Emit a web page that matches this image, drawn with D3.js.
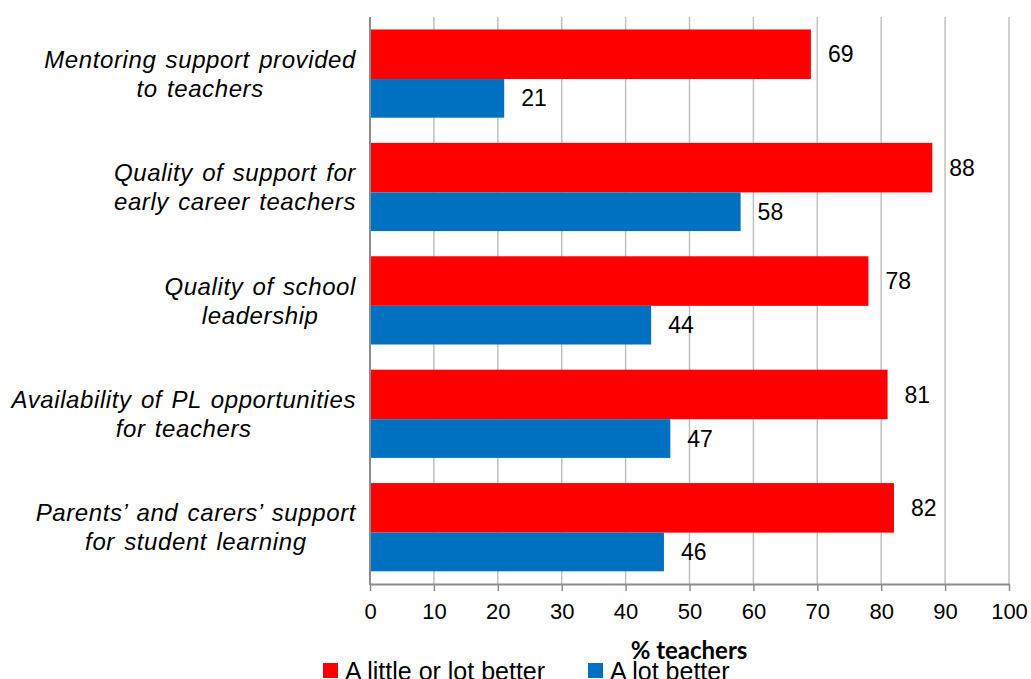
<!DOCTYPE html>
<html>
<head>
<meta charset="utf-8">
<script src="https://cdn.jsdelivr.net/npm/d3@7"></script>
<style>
  html, body { margin: 0; padding: 0; background: #fff; }
  svg { display: block; }
  text { font-family: "Liberation Sans", Arial, sans-serif; fill: #000; }
</style>
</head>
<body>
<svg id="chart" width="1031" height="679"></svg>
<script>
// Survey categories (top to bottom) with each line of the wrapped label
const categories = [
  ["Mentoring support provided", "to teachers"],
  ["Quality of support for", "early career teachers"],
  ["Quality of school", "leadership"],
  ["Availability of PL opportunities", "for teachers"],
  ["Parents\u2019 and carers\u2019 support", "for student learning"]
];
const littleOrLotBetter = [69, 88, 78, 81, 82];
const lotBetter = [21, 58, 44, 47, 46];
const xTicks = [0, 10, 20, 30, 40, 50, 60, 70, 80, 90, 100];
const seriesNames = ["A little or lot better", "A lot better"];
const seriesColors = ["#ff0000", "#0070c0"];
const xTitle = "% teachers";

const svg = d3.select("#chart");
const plot = { left: 370, right: 1009, top: 17, bottom: 584 };

const x = d3.scaleLinear().domain([0, 100]).range([plot.left, plot.right]);
const y = d3.scaleBand()
  .domain(d3.range(categories.length))
  .range([plot.top, plot.bottom])
  .padding(0);
const bw = y.bandwidth();
const inset = 0.11 * bw, redH = 0.437 * bw, blueH = 0.341 * bw;

// vertical gridlines
svg.append("g")
  .selectAll("line")
  .data(xTicks.filter(d => d > 0))
  .join("line")
  .attr("x1", d => x(d)).attr("x2", d => x(d))
  .attr("y1", plot.top).attr("y2", plot.bottom)
  .attr("stroke", "#c0c0c0").attr("stroke-width", 1.5);

// bottom axis
const xAxis = svg.append("g")
  .attr("transform", `translate(0,${plot.bottom})`)
  .call(d3.axisBottom(x).tickValues(xTicks).tickSize(7).tickSizeOuter(0).tickPadding(12));
xAxis.select(".domain").attr("stroke", "#8c8c8c").attr("stroke-width", 2);
xAxis.selectAll(".tick line").attr("stroke", "#8c8c8c").attr("stroke-width", 1.5);
xAxis.selectAll(".tick text")
  .attr("font-size", 22)
  .attr("font-family", "'Liberation Sans', Arial, sans-serif")
  .attr("fill", "#000");

// bars
const rows = categories.map((c, i) => ({ i, a: littleOrLotBetter[i], b: lotBetter[i] }));
const g = svg.append("g");
g.selectAll("rect.red").data(rows).join("rect")
  .attr("class", "red")
  .attr("x", x(0)).attr("y", d => y(d.i) + inset)
  .attr("width", d => x(d.a) - x(0)).attr("height", redH)
  .attr("fill", seriesColors[0]);
g.selectAll("rect.blue").data(rows).join("rect")
  .attr("class", "blue")
  .attr("x", x(0)).attr("y", d => y(d.i) + inset + redH)
  .attr("width", d => x(d.b) - x(0)).attr("height", blueH)
  .attr("fill", seriesColors[1]);

// value labels
g.selectAll("text.va").data(rows).join("text")
  .attr("class", "va")
  .attr("x", d => x(d.a) + 17).attr("y", d => y(d.i) + inset + redH / 2)
  .attr("dy", "0.35em").attr("font-size", 23)
  .text(d => d.a);
g.selectAll("text.vb").data(rows).join("text")
  .attr("class", "vb")
  .attr("x", d => x(d.b) + 17).attr("y", d => y(d.i) + inset + redH + blueH / 2)
  .attr("dy", "0.35em").attr("font-size", 23)
  .text(d => d.b);

// left axis line
svg.append("line")
  .attr("x1", plot.left).attr("x2", plot.left)
  .attr("y1", plot.top).attr("y2", plot.bottom + 1)
  .attr("stroke", "#8c8c8c").attr("stroke-width", 2);

// category labels: a centered text block, right-aligned against the axis
const labelRight = plot.left - 14;
categories.forEach((lines, i) => {
  const cy = y(i) + bw / 2;
  const t = svg.append("text")
    .attr("font-size", 24)
    .attr("font-style", "italic")
    .attr("word-spacing", 2)
    .attr("letter-spacing", 0.6)
    .attr("text-anchor", "middle");
  const spans = lines.map((ln, k) => t.append("tspan")
    .attr("y", cy - 6 + k * 29)
    .text(ln));
  const maxW = d3.max(spans, s => s.node().getComputedTextLength());
  spans.forEach(s => s.attr("x", labelRight - maxW / 2));
});

// axis title
svg.append("text")
  .attr("x", 689).attr("y", 659)
  .attr("text-anchor", "middle")
  .style("font-family", "Lato, 'Open Sans', sans-serif")
  .attr("font-weight", 700).attr("font-size", 24)
  .text(xTitle);

// legend
const legend = [{ x: 323 }, { x: 588 }];
legend.forEach((l, i) => {
  svg.append("rect")
    .attr("x", l.x).attr("y", 663).attr("width", 15).attr("height", 15)
    .attr("fill", seriesColors[i]);
  svg.append("text")
    .attr("x", l.x + 22).attr("y", 680)
    .attr("font-size", 25)
    .text(seriesNames[i]);
});
</script>
</body>
</html>
